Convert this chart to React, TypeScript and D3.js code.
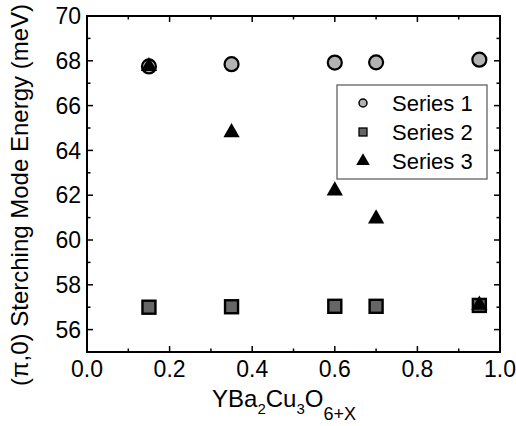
import React, { useEffect, useRef } from 'react';
import * as d3 from 'd3';

// doping values (x in YBa2Cu3O6+x)
const doping = [0.15, 0.35, 0.6, 0.7, 0.95];
const series1 = [67.75, 67.85, 67.92, 67.93, 68.05];
const series2 = [57.0, 57.02, 57.04, 57.04, 57.08];
const series3 = [67.75, 64.8, 62.2, 60.95, 57.1];

const xTicks = [0, 0.2, 0.4, 0.6, 0.8, 1.0];
const yTicks = [56, 58, 60, 62, 64, 66, 68, 70];
const seriesNames = ['Series 1', 'Series 2', 'Series 3'];

const FONT = '"Liberation Sans", Arial, sans-serif';

const App = () => {
  const svgRef = useRef<SVGSVGElement>(null);

  useEffect(() => {
    const root = d3.select(svgRef.current);
    root.selectAll('*').remove();

    const left = 87, right = 500, top = 16, bottom = 352;
    const x = d3.scaleLinear().domain([0, 1]).range([left, right]);
    const y = d3.scaleLinear().domain([55, 70]).range([bottom, top]);

    const g = root.append('g');

    // frame
    g.append('rect')
      .attr('x', left).attr('y', top)
      .attr('width', right - left).attr('height', bottom - top)
      .attr('fill', 'none').attr('stroke', '#000').attr('stroke-width', 2);

    // ticks on all four sides, pointing inward
    const xMinor = d3.range(0.1, 1, 0.2);
    const yMinor = d3.range(55, 70, 2);
    const tick = (x1: number, y1: number, x2: number, y2: number) =>
      g.append('line').attr('x1', x1).attr('y1', y1).attr('x2', x2).attr('y2', y2)
        .attr('stroke', '#000').attr('stroke-width', 1.5);

    xTicks.forEach(v => { tick(x(v), bottom, x(v), bottom - 6); tick(x(v), top, x(v), top + 6); });
    xMinor.forEach(v => { tick(x(v), bottom, x(v), bottom - 3.5); tick(x(v), top, x(v), top + 3.5); });
    yTicks.forEach(v => { tick(left, y(v), left + 6, y(v)); tick(right, y(v), right - 6, y(v)); });
    yMinor.forEach(v => { tick(left, y(v), left + 3.5, y(v)); tick(right, y(v), right - 3.5, y(v)); });

    // tick labels
    g.selectAll('.xl').data(xTicks).enter().append('text')
      .attr('x', d => x(d)).attr('y', 377)
      .attr('text-anchor', 'middle')
      .attr('font-family', FONT).attr('font-size', 23)
      .text(d => d.toFixed(1));

    g.selectAll('.yl').data(yTicks).enter().append('text')
      .attr('x', 81).attr('y', d => y(d)).attr('dy', '0.36em')
      .attr('text-anchor', 'end')
      .attr('font-family', FONT).attr('font-size', 23)
      .text(d => d);

    // axis titles
    const xt = g.append('text')
      .attr('x', 212).attr('y', 407)
      .attr('font-family', FONT).attr('font-size', 24);
    xt.append('tspan').text('YBa');
    xt.append('tspan').attr('font-size', 15).attr('dy', 7).text('2');
    xt.append('tspan').attr('dy', -7).text('Cu');
    xt.append('tspan').attr('font-size', 15).attr('dy', 7).text('3');
    xt.append('tspan').attr('dy', -7).text('O');
    xt.append('tspan').attr('font-size', 18).attr('dy', 13).text('6+X');

    g.append('text')
      .attr('transform', 'translate(28,195) rotate(-90)')
      .attr('text-anchor', 'middle')
      .attr('font-family', FONT).attr('font-size', 24)
      .text('(\u03c0,0) Sterching Mode Energy (meV)');

    // markers
    const circle = (sel: any, cx: number, cy: number, r: number) =>
      sel.append('circle').attr('cx', cx).attr('cy', cy).attr('r', r)
        .attr('fill', '#b3b3b3').attr('stroke', '#000').attr('stroke-width', 2.2);
    const square = (sel: any, cx: number, cy: number, s: number) =>
      sel.append('rect').attr('x', cx - s / 2).attr('y', cy - s / 2)
        .attr('width', s).attr('height', s)
        .attr('fill', '#666').attr('stroke', '#000').attr('stroke-width', 2.4);
    const tri = d3.symbol().type(d3.symbolTriangle);
    const triangle = (sel: any, cx: number, cy: number, size: number) =>
      sel.append('path').attr('d', tri.size(size)())
        .attr('transform', `translate(${cx},${cy})`).attr('fill', '#000');

    doping.forEach((d, i) => circle(g, x(d), y(series1[i]), 7));
    doping.forEach((d, i) => square(g, x(d), y(series2[i]), 13));
    doping.forEach((d, i) => triangle(g, x(d), y(series3[i]), 115));

    // legend
    const lg = g.append('g');
    lg.append('rect')
      .attr('x', 337).attr('y', 85).attr('width', 150).attr('height', 94)
      .attr('fill', '#fff').attr('stroke', '#555').attr('stroke-width', 1.2);
    const rowY = [103, 132, 161];
    circle(lg, 363, rowY[0], 4).attr('stroke-width', 1.5);
    square(lg, 363, rowY[1], 8).attr('stroke-width', 1.3);
    triangle(lg, 363, rowY[2], 80);
    lg.selectAll('.lt').data(seriesNames).enter().append('text')
      .attr('x', 392).attr('y', (_, i) => rowY[i]).attr('dy', '0.36em')
      .attr('font-family', FONT).attr('font-size', 22)
      .text(d => d);
  }, []);

  return (
    <svg ref={svgRef} width={516} height={426}
      style={{ position: 'absolute', left: 0, top: 0, background: '#fff' }} />
  );
};

export default App;
